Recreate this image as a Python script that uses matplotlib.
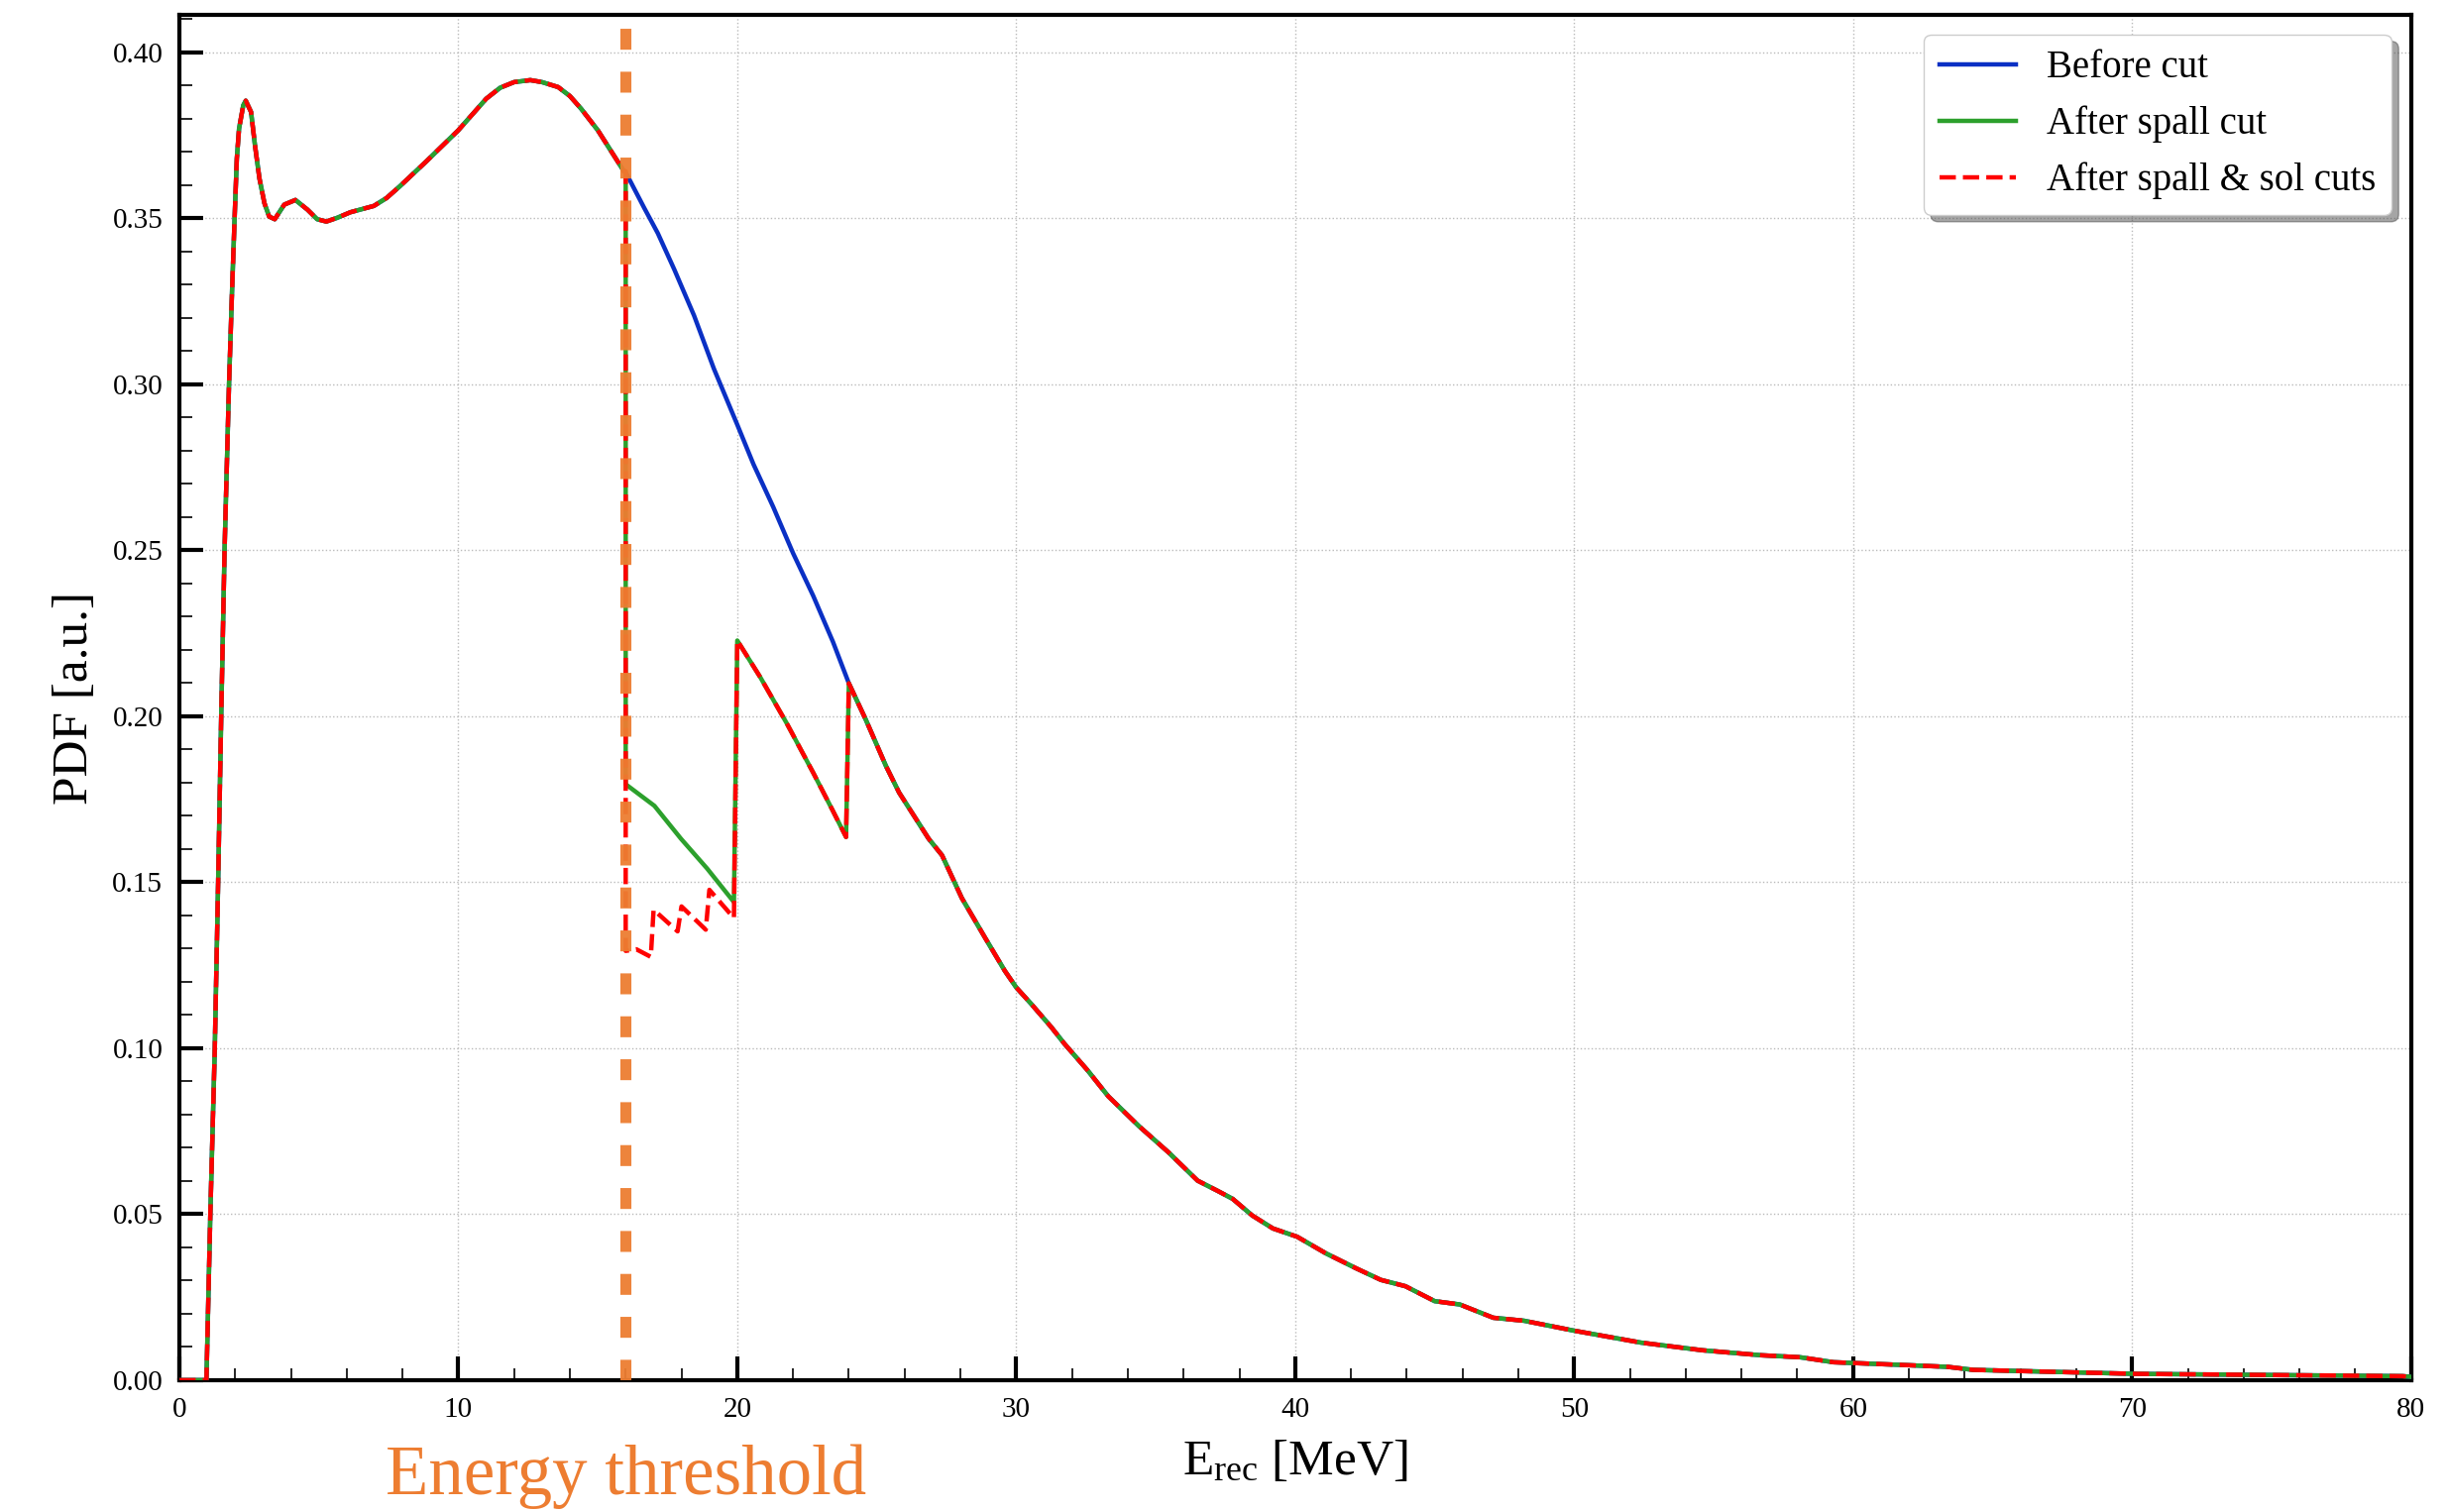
import matplotlib
matplotlib.use("Agg")
import matplotlib.pyplot as plt
from matplotlib.patches import Shadow
from matplotlib.ticker import MultipleLocator, FormatStrFormatter
import numpy as np

plt.rcParams['font.family'] = ['Liberation Serif', 'DejaVu Serif']
plt.rcParams['mathtext.fontset'] = 'custom'
plt.rcParams['mathtext.rm'] = 'Liberation Serif'

# Reconstructed energy spectrum [MeV] -> PDF [a.u.]
# shared part below the threshold
e_low = [0.0, 0.97, 1.11, 1.27, 1.39, 1.50, 1.62, 1.78, 1.88, 1.98, 2.06,
         2.14, 2.29, 2.38, 2.57, 2.71, 2.87, 3.05, 3.22, 3.42, 3.76, 4.16,
         4.59, 4.94, 5.27, 5.65, 6.13, 6.97, 7.43, 7.9, 8.85, 10.0, 11.0,
         11.5, 12.0, 12.58, 13.0, 13.58, 14.0, 14.4, 15.0, 15.94]
pdf_low = [0.0, 0.0, 0.05, 0.10, 0.15, 0.20, 0.25, 0.30, 0.326, 0.350, 0.368,
           0.377, 0.384, 0.3854, 0.382, 0.372, 0.362, 0.3545, 0.3505, 0.3497,
           0.3541, 0.3555, 0.3526, 0.3497, 0.3490, 0.3501, 0.3518, 0.3537,
           0.3561, 0.3596, 0.3671, 0.3765, 0.3860, 0.3893, 0.3910, 0.3916,
           0.3910, 0.3895, 0.3868, 0.3830, 0.3765, 0.3641]

# 16-24 MeV, no cut
e_before = [16.02, 16.67, 17.15, 17.74, 18.45, 19.16, 20.01, 20.58, 21.29,
            22.0, 22.72, 23.43]
pdf_before = [0.3635, 0.3530, 0.3455, 0.3346, 0.3207, 0.3047, 0.2876, 0.2759,
              0.2630, 0.2491, 0.2363, 0.2224]

# 16-20 MeV with spallation cut
e_spall = [16.0, 16.0, 17.03, 17.98, 18.92, 19.88]
pdf_spall = [0.3641, 0.1795, 0.1730, 0.1631, 0.1541, 0.1440]

# 16-20 MeV with spallation and solar cuts
e_sol = [16.0, 16.0, 16.38, 16.9, 17.0, 17.86, 18.0, 18.87, 19.0, 19.88]
pdf_sol = [0.3641, 0.1293, 0.1298, 0.1275, 0.1417, 0.1352, 0.1427, 0.1357,
           0.1477, 0.1392]

# 20-24 MeV after cuts (same for both cut curves)
e_cut_mid = [20.0, 20.82, 21.77, 22.72, 23.42, 23.9]
pdf_cut_mid = [0.2228, 0.2118, 0.1979, 0.1830, 0.1716, 0.1636]

# shared tail above 24 MeV
e_tail = [24.0, 24.61, 25.33, 25.8, 26.86, 27.34, 28.05, 28.88, 29.59, 30.0,
          30.54, 31.25, 31.72, 32.55, 33.3, 34.4, 35.46, 36.5, 37.2, 37.76,
          38.46, 39.2, 40.07, 41.1, 42.18, 43.07, 43.95, 45.0, 45.9, 47.1,
          48.2, 50.0, 52.4, 54.6, 56.7, 58.1, 59.3, 62.0, 63.4, 64.3, 70.1,
          74.3, 79.7, 80.0]
pdf_tail = [0.2099, 0.1989, 0.1850, 0.1770, 0.1631, 0.1581, 0.1452, 0.1333,
            0.1233, 0.1183, 0.1133, 0.1064, 0.1014, 0.0934, 0.0855, 0.0765,
            0.0686, 0.0601, 0.0571, 0.0546, 0.0496, 0.0457, 0.0432, 0.0382,
            0.0337, 0.0302, 0.0283, 0.0238, 0.0228, 0.0188, 0.0179, 0.0149,
            0.0113, 0.0090, 0.0075, 0.0069, 0.0054, 0.0045, 0.0040, 0.0031,
            0.0019, 0.0016, 0.0012, 0.0010]

threshold = 16.0

e_b = np.concatenate([e_low, e_before, e_tail])
p_b = np.concatenate([pdf_low, pdf_before, pdf_tail])
e_s = np.concatenate([e_low, e_spall, e_cut_mid, e_tail])
p_s = np.concatenate([pdf_low, pdf_spall, pdf_cut_mid, pdf_tail])
e_r = np.concatenate([e_low, e_sol, e_cut_mid, e_tail])
p_r = np.concatenate([pdf_low, pdf_sol, pdf_cut_mid, pdf_tail])

fig = plt.figure(figsize=(24.69, 15.26), dpi=100)
ax = fig.add_axes([0.0733, 0.0872, 0.912, 0.9028])

ax.plot(e_b, p_b, color='#0a30c4', lw=3.2, label='Before cut', zorder=3)
ax.plot(e_s, p_s, color='#2ca02c', lw=3.2, label='After spall cut', zorder=3)
ax.plot(e_r, p_r, color='red', lw=3.2, ls='--', label='After spall & sol cuts', zorder=4)
ax.axvline(threshold, color='#ED7D31', lw=8, dashes=(1.9, 2.0), alpha=0.95, zorder=6)

ax.text(threshold, -0.029, 'Energy threshold', color='#ED7D31', fontsize=51,
        ha='center', va='center', clip_on=False)

ax.set_xlim(0, 80)
ax.set_ylim(0, max(p_b) * 1.05)
ax.set_xlabel(r'$\mathrm{E_{rec}}$ [MeV]', fontsize=37, labelpad=12)
ax.set_ylabel('PDF [a.u.]', fontsize=37, labelpad=10)

ax.xaxis.set_major_locator(MultipleLocator(10))
ax.xaxis.set_minor_locator(MultipleLocator(2))
ax.yaxis.set_major_locator(MultipleLocator(0.05))
ax.yaxis.set_minor_locator(MultipleLocator(0.01))
ax.yaxis.set_major_formatter(FormatStrFormatter('%.2f'))
ax.tick_params(which='major', direction='in', length=17, width=3,
               labelsize=21, pad=12)
ax.tick_params(which='minor', direction='in', length=9, width=1.2)
for s in ax.spines.values():
    s.set_linewidth(3)

ax.grid(True, which='major', ls=':', lw=1.0, color='#bbbbbb')
ax.set_axisbelow(True)

leg = ax.legend(loc='upper right', fontsize=28, fancybox=True, shadow=False,
                framealpha=1, edgecolor='#cccccc', handlelength=2.0)
leg.get_frame().set_linewidth(1.0)
leg.set_zorder(10)
fig.canvas.draw()
sh = Shadow(leg.legendPatch, 5, -5)
sh.set_zorder(9.5)
sh.set_clip_on(False)
ax.add_artist(sh)

fig.savefig('out.png', dpi=100)
